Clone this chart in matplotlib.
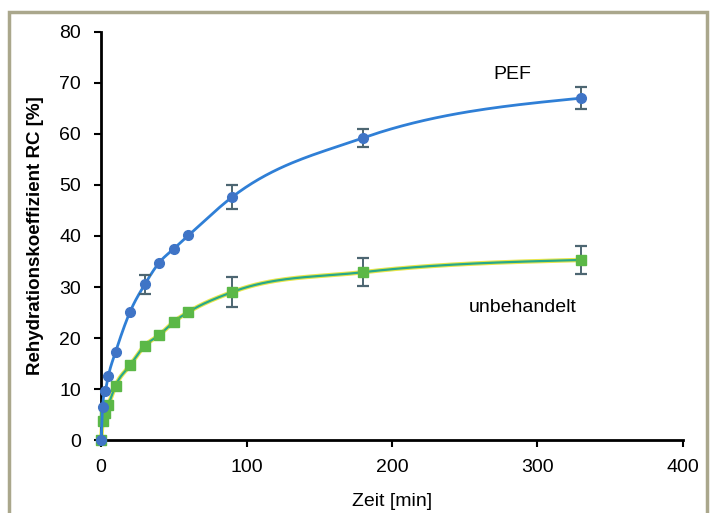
import numpy as np
import matplotlib.pyplot as plt
from matplotlib.patches import Rectangle

plt.rcParams['font.family'] = ['Liberation Sans', 'DejaVu Sans']

# time points [min]
t_pef = [0, 1, 3, 5, 10, 20, 30, 40, 50, 60, 90, 180, 330]
rc_pef = [0, 6.4, 9.7, 12.6, 17.3, 25.2, 30.5, 34.8, 37.5, 40.1, 47.6, 59.2, 67.0]
err_pef = [0, 0, 0, 0, 0, 0, 1.8, 0, 0, 0, 2.3, 1.7, 2.2]

t_unb = [0, 1, 3, 5, 10, 20, 30, 40, 50, 60, 90, 180, 330]
rc_unb = [0, 3.8, 5.4, 6.9, 10.7, 14.7, 18.5, 20.6, 23.2, 25.1, 29.0, 32.9, 35.3]
err_unb = [0, 0, 0, 0, 0, 0, 0, 0, 0, 0, 3.0, 2.7, 2.8]


def smooth(x, y, n=40):
    # cubic Hermite with Bessel slopes (looks like Excel's smoothed line)
    x = np.asarray(x, float)
    y = np.asarray(y, float)
    h = np.diff(x)
    d = np.diff(y) / h
    m = np.empty_like(y)
    for k in range(1, len(x) - 1):
        m[k] = (h[k] * d[k - 1] + h[k - 1] * d[k]) / (h[k - 1] + h[k])
    # natural-type end slopes
    m[0] = (3 * d[0] - m[1]) / 2
    m[-1] = (3 * d[-1] - m[-2]) / 2
    xs, ys = [], []
    s = np.linspace(0, 1, n)
    h00 = 2 * s**3 - 3 * s**2 + 1
    h10 = s**3 - 2 * s**2 + s
    h01 = -2 * s**3 + 3 * s**2
    h11 = s**3 - s**2
    for k in range(len(x) - 1):
        xs.append(x[k] + s * h[k])
        ys.append(h00 * y[k] + h10 * h[k] * m[k] + h01 * y[k + 1] + h11 * h[k] * m[k + 1])
    return np.concatenate(xs), np.concatenate(ys)


fig = plt.figure(figsize=(7.12, 5.13), dpi=100)
ax = fig.add_axes([0.142, 0.142, 0.817, 0.796])

# figure frame
fig.patches.append(Rectangle((0.013, -0.05), 0.98, 1.027, transform=fig.transFigure,
                             fill=False, edgecolor='#aaa78c', linewidth=2.5))

sx, sy = smooth(t_unb, rc_unb)
ax.plot(sx, sy, color='#e8e64a', lw=3.2, zorder=2)
ax.plot(sx, sy, color='#27a889', lw=1.6, zorder=3)
ax.errorbar(t_unb, rc_unb, yerr=[e if e > 0 else np.nan for e in err_unb], fmt='none',
            ecolor='#4d6672', elinewidth=1.4, capsize=4, capthick=1.6, zorder=4)
ax.plot(t_unb, rc_unb, 's', color='#5bb847', markersize=7, zorder=5)

sx, sy = smooth(t_pef, rc_pef)
ax.plot(sx, sy, color='#2f7fd6', lw=2, zorder=6)
ax.errorbar(t_pef, rc_pef, yerr=[e if e > 0 else np.nan for e in err_pef], fmt='none',
            ecolor='#4d6672', elinewidth=1.4, capsize=4, capthick=1.6, zorder=7)
ax.plot(t_pef, rc_pef, 'o', color='#3f74c6', markersize=7, zorder=8)

ax.text(283, 71.6, 'PEF', fontsize=14, ha='center', va='center')
ax.text(290, 25.9, 'unbehandelt', fontsize=14, ha='center', va='center')

ax.set_xlim(0, 400)
ax.set_ylim(0, 80)
ax.set_xticks([0, 100, 200, 300, 400])
ax.set_yticks(range(0, 90, 10))
for s in ['top', 'right']:
    ax.spines[s].set_visible(False)
for s in ['left', 'bottom']:
    ax.spines[s].set_linewidth(2)
    ax.spines[s].set_color('black')
ax.tick_params(axis='x', direction='out', length=5, width=1.5, labelsize=14, pad=8.5)
ax.tick_params(axis='y', direction='out', length=5, width=1.5, labelsize=14, pad=9.5)
ax.set_xlabel('Zeit [min]', fontsize=14, labelpad=12)
ax.set_ylabel('Rehydrationskoeffizient RC [%]', fontsize=13.5, fontweight='bold', labelpad=11)
for art in ax.lines:
    art.set_clip_on(False)

fig.savefig('out.png', dpi=100)
